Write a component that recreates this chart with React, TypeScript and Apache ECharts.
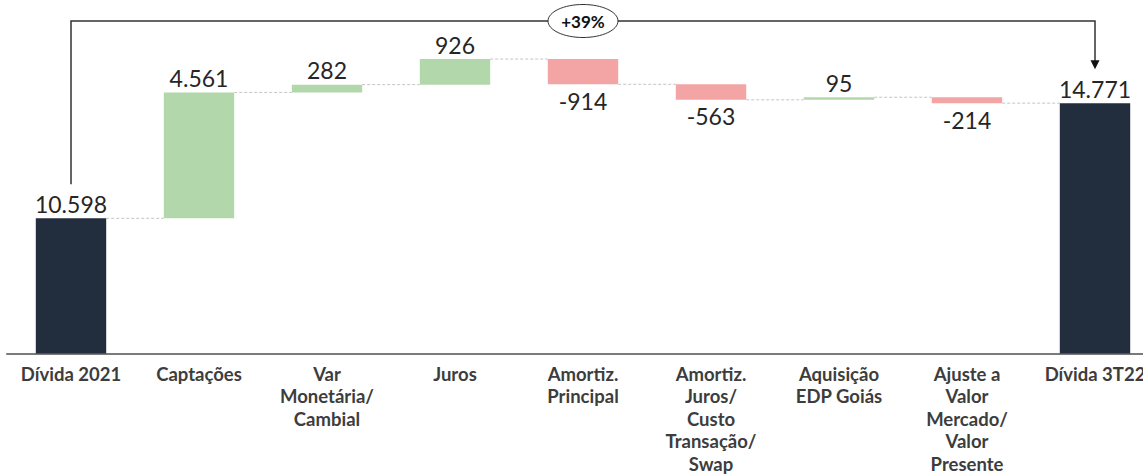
import React, { useEffect, useRef } from "react";
import * as echarts from "echarts";

const categories = [
  "Dívida 2021",
  "Captações",
  "Var\nMonetária/\nCambial",
  "Juros",
  "Amortiz.\nPrincipal",
  "Amortiz.\nJuros/\nCusto\nTransação/\nSwap",
  "Aquisição\nEDP Goiás",
  "Ajuste a\nValor\nMercado/\nValor\nPresente",
  "Dívida 3T22",
];
const values = [10598, 4561, 282, 926, -914, -563, 95, -214, 14771];
const isTotal = [true, false, false, false, false, false, false, false, true];
const growthLabel = "+39%";

const COLOR_TOTAL = "#222d3d";
const COLOR_UP = "#b2d7aa";
const COLOR_DOWN = "#f3a4a4";
const FONT = "Lato, 'DejaVu Sans', sans-serif";

function fmt(n: number): string {
  const s = Math.abs(n)
    .toString()
    .replace(/\B(?=(\d{3})+(?!\d))/g, ".");
  return (n < 0 ? "-" : "") + s;
}

export default function App() {
  const ref = useRef<HTMLDivElement>(null);

  useEffect(() => {
    if (!ref.current) return;
    const chart = echarts.init(ref.current, undefined, { renderer: "svg" });

    const baseData: number[] = [];
    const deltaData: any[] = [];
    const connectors: number[][] = [];
    let level = 0;
    values.forEach((v, i) => {
      if (isTotal[i]) {
        baseData.push(0);
        level = v;
        deltaData.push({
          value: v,
          itemStyle: { color: COLOR_TOTAL },
          label: { position: "top", formatter: fmt(v) },
        });
      } else {
        const next = level + v;
        baseData.push(Math.min(level, next));
        deltaData.push({
          value: Math.abs(v),
          itemStyle: { color: v >= 0 ? COLOR_UP : COLOR_DOWN },
          label: {
            position: v >= 0 ? "top" : "bottom",
            distance: v >= 0 ? 3 : 5,
            formatter: fmt(v),
          },
        });
        level = next;
      }
      if (i < values.length - 1) connectors.push([i, level]);
    });

    const option: any = {
      animation: false,
      textStyle: { fontFamily: FONT },
      grid: { left: 7, top: 14, width: 1152, height: 341, containLabel: false },
      xAxis: {
        type: "category",
        data: categories,
        axisLine: { lineStyle: { color: "#7a7a7a", width: 2 } },
        axisTick: { show: false },
        axisLabel: {
          interval: 0,
          margin: 9,
          fontFamily: FONT,
          fontWeight: "bold",
          fontSize: 18.5,
          lineHeight: 22.5,
          color: "#3d3d3d",
        },
      },
      yAxis: {
        type: "value",
        show: false,
        min: 5700,
        max: 18000,
        splitLine: { show: false },
      },
      series: [
        {
          type: "bar",
          stack: "wf",
          barWidth: "55%",
          silent: true,
          itemStyle: { color: "transparent" },
          data: baseData,
        },
        {
          type: "bar",
          stack: "wf",
          barWidth: "55%",
          label: {
            show: true,
            fontFamily: FONT,
            fontSize: 23,
            color: "#262626",
            distance: 3,
          },
          data: deltaData,
        },
        {
          type: "custom",
          silent: true,
          data: connectors,
          encode: { x: 0, y: 1 },
          renderItem: (params: any, api: any) => {
            const i = api.value(0);
            const lv = api.value(1);
            const band = api.size([1, 0])[0];
            const half = (band * 0.55) / 2;
            const a = api.coord([i, lv]);
            const b = api.coord([i + 1, lv]);
            return {
              type: "line",
              shape: { x1: a[0] + half, y1: a[1], x2: b[0] - half, y2: b[1] },
              style: { stroke: "#c4c4c4", lineWidth: 1, lineDash: [3, 2] },
            };
          },
        },
      ],
    };
    chart.setOption(option);

    const n = values.length;
    const p0 = chart.convertToPixel({ gridIndex: 0 } as any, [0, values[0]]) as number[];
    const pN = chart.convertToPixel({ gridIndex: 0 } as any, [n - 1, values[n - 1]]) as number[];
    const topY = 21;
    const offset = 34;
    const tipY = pN[1] - offset;
    const midX = (p0[0] + pN[0]) / 2;
    chart.setOption({
      graphic: [
        {
          type: "polyline",
          silent: true,
          shape: {
            points: [
              [p0[0], p0[1] - offset],
              [p0[0], topY],
              [pN[0], topY],
              [pN[0], tipY - 8],
            ],
          },
          style: { stroke: "#333", lineWidth: 1.5, fill: null },
        },
        {
          type: "polygon",
          silent: true,
          shape: {
            points: [
              [pN[0] - 4.5, tipY - 9],
              [pN[0] + 4.5, tipY - 9],
              [pN[0], tipY],
            ],
          },
          style: { fill: "#111" },
        },
        {
          type: "ellipse",
          silent: true,
          shape: { cx: midX, cy: topY, rx: 35, ry: 16.5 },
          style: { fill: "#fff", stroke: "#333", lineWidth: 1 },
        },
        {
          type: "text",
          silent: true,
          x: midX,
          y: topY,
          style: {
            text: growthLabel,
            fontFamily: FONT,
            fontWeight: "bold",
            fontSize: 17,
            fill: "#111",
            align: "center",
            verticalAlign: "middle",
          },
        },
      ],
    });

    return () => chart.dispose();
  }, []);

  return (
    <div
      style={{ position: "absolute", left: 0, top: 0, width: 1143, height: 475, overflow: "hidden" }}
    >
      <div ref={ref} style={{ width: 1170, height: 475 }} />
    </div>
  );
}
